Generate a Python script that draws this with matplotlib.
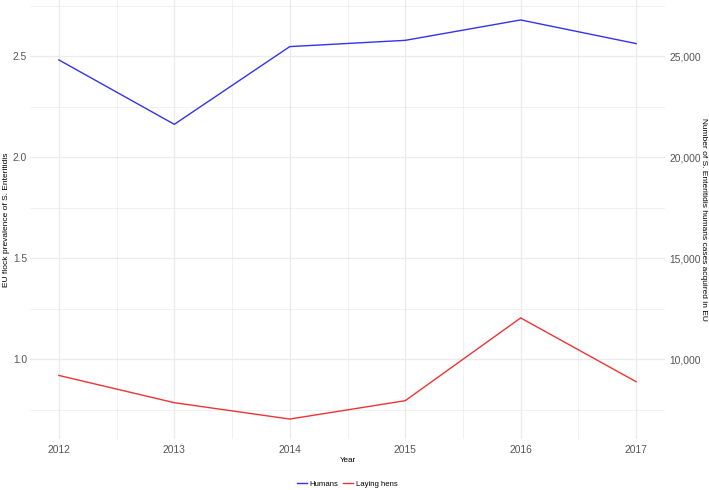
import matplotlib
matplotlib.use("Agg")
import matplotlib.pyplot as plt
from matplotlib.ticker import FuncFormatter, MultipleLocator
import numpy as np

years = [2012, 2013, 2014, 2015, 2016, 2017]
humans = [24820, 21630, 25480, 25790, 26800, 25630]
laying_hens = [0.919, 0.784, 0.703, 0.794, 1.204, 0.888]
scale = 10000
left_ticks = [1.0, 1.5, 2.0, 2.5]
right_ticks = [10000, 15000, 20000, 25000]

plt.rcParams['font.family'] = ['Liberation Sans', 'DejaVu Sans']

fig = plt.figure(figsize=(7.09, 4.90), dpi=100)
ax = fig.add_axes([30/709, 51/490, 635/709, 439/490])
ax2 = ax.twinx()

grid_c = '#EBEBEB'
allv = np.concatenate([np.array(laying_hens), np.array(humans) / scale])
lo, hi = allv.min(), allv.max()
pad = (hi - lo) * 0.05
ax.set_ylim(lo - pad, hi + pad)
ax2.set_ylim((lo - pad) * scale, (hi + pad) * scale)
ax.set_xlim(2012 - 0.25, 2017 + 0.25)

ax.set_yticks(left_ticks)
ax.yaxis.set_minor_locator(MultipleLocator(0.25))
ax.set_xticks(years)
ax.xaxis.set_minor_locator(MultipleLocator(0.5))
ax.grid(which='major', color=grid_c, lw=0.9)
ax.grid(which='minor', color=grid_c, lw=0.5)
ax.set_axisbelow(True)

l1, = ax2.plot(years, humans, color='#3333EE', lw=1.0, label='Humans')
l2, = ax.plot(years, laying_hens, color='#EE3333', lw=1.0, label='Laying hens')

ax.yaxis.set_major_formatter(FuncFormatter(lambda v, p: f"{v:.1f}"))
ax2.set_yticks(right_ticks)
ax2.yaxis.set_major_formatter(FuncFormatter(lambda v, p: f"{int(v):,}"))

for a in (ax, ax2):
    for s in a.spines.values():
        s.set_visible(False)
    a.tick_params(which='both', length=0, labelsize=7.4, colors='#555555')
ax.tick_params(axis='x', pad=4)
ax.tick_params(axis='y', pad=2)
ax2.tick_params(axis='y', pad=3)

ax.set_xlabel('Year', fontsize=5.8, color='black', labelpad=2)
ax.set_ylabel('EU flock prevalence of S. Enteritidis', fontsize=6.0, color='black',
              va='center', ha='center')
ax.yaxis.set_label_coords((7 - 30) / 635, 0.5)
ax2.set_ylabel('Number of S. Enteritidis humans cases acquired in EU', fontsize=6.0,
               color='black', rotation=-90, va='center', ha='center')
ax2.yaxis.set_label_coords((703 - 30) / 635, 0.5)

fig.legend(handles=[l1, l2], loc='center', bbox_to_anchor=(347/709, 1 - 484/490), ncol=2,
           frameon=False, fontsize=5.6, handlelength=1.4, handletextpad=0.3,
           columnspacing=0.5, borderpad=0)

fig.savefig('out.png', dpi=100)
